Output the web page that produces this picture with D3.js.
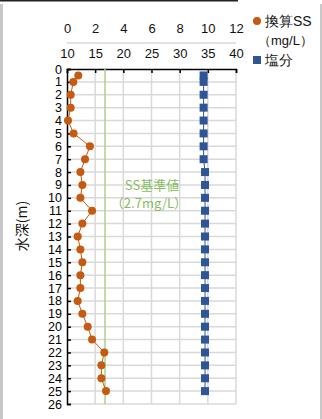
<!DOCTYPE html>
<html>
<head>
<meta charset="utf-8">
<script src="https://cdn.jsdelivr.net/npm/d3@7"></script>
<style>
  body { margin: 0; background: #fff; }
  text { font-family: "Liberation Sans", Arial, sans-serif; }
</style>
</head>
<body>
<div id="wrapper"></div>
<script>
const depths = [0.5, 1, 2, 3, 4, 5, 6, 7, 8, 9, 10, 11, 12, 13, 14, 15, 16, 17, 18, 19, 20, 21, 22, 23, 24, 25];
const ssValues = [0.8, 0.45, 0.26, 0.26, 0.07, 0.47, 1.63, 1.28, 0.95, 1.09, 0.95, 1.78, 1.09,
  0.76, 0.95, 1.09, 0.95, 0.95, 0.76, 1.09, 1.47, 1.78, 2.65, 2.44, 2.44, 2.77];
const salValues = [34.25, 34.25, 34.25, 34.25, 34.25, 34.25, 34.25, 34.25, 34.5, 34.5, 34.5, 34.5, 34.5,
  34.5, 34.5, 34.5, 34.5, 34.5, 34.5, 34.5, 34.5, 34.5, 34.5, 34.5, 34.5, 34.5];
const ssTicks = [0, 2, 4, 6, 8, 10, 12];
const salTicks = [10, 15, 20, 25, 30, 35, 40];
const depthTicks = d3.range(0, 27);
const ssStandard = 2.7;

const width = 322;
const height = 419;
const plot = { left: 67, right: 236, top: 69, bottom: 404 };

const svg = d3.select("#wrapper")
  .append("svg")
  .attr("width", width)
  .attr("height", height);

// frame bits of the screenshot
svg.append("line").attr("x1", 0).attr("x2", 238).attr("y1", 0.5).attr("y2", 0.5)
  .attr("stroke", "#222").attr("stroke-width", 2);
svg.append("line").attr("x1", 1.5).attr("x2", 1.5).attr("y1", 4).attr("y2", height)
  .attr("stroke", "#c8c8c8").attr("stroke-width", 3);
svg.append("line").attr("x1", 321).attr("x2", 321).attr("y1", 4).attr("y2", height)
  .attr("stroke", "#c8c8c8").attr("stroke-width", 2);

const yScale = d3.scaleLinear().domain([0, 26]).range([plot.top, plot.bottom]);
const xSS = d3.scaleLinear().domain([0, 12]).range([plot.left, plot.right]);
const xSal = d3.scaleLinear().domain([10, 40]).range([plot.left, plot.right]);

// grid
svg.append("g")
  .selectAll("line")
  .data(depthTicks.slice(1))
  .join("line")
  .attr("x1", plot.left).attr("x2", plot.right)
  .attr("y1", (d) => yScale(d)).attr("y2", (d) => yScale(d))
  .attr("stroke", "#d9d9d9").attr("stroke-width", 1.5);

svg.append("g")
  .selectAll("line")
  .data(ssTicks.slice(1))
  .join("line")
  .attr("x1", (d) => xSS(d)).attr("x2", (d) => xSS(d))
  .attr("y1", plot.top).attr("y2", plot.bottom)
  .attr("stroke", "#d9d9d9").attr("stroke-width", 1.5);

// gray line between the two top label rows
svg.append("line")
  .attr("x1", plot.left).attr("x2", plot.right)
  .attr("y1", 43).attr("y2", 43)
  .attr("stroke", "#d9d9d9").attr("stroke-width", 1.5);

// top axis line with inner ticks
svg.append("g")
  .attr("transform", `translate(0,${plot.top})`)
  .call(d3.axisTop(xSS).tickValues(ssTicks).tickSize(-4).tickFormat(""))
  .call((g) => g.selectAll("path, line").attr("stroke", "#000").attr("stroke-width", 1.5));

// SS labels
svg.append("g")
  .attr("transform", "translate(0,33)")
  .call(d3.axisTop(xSS).tickValues(ssTicks).tickSize(0).tickPadding(0))
  .call((g) => g.select(".domain").remove())
  .call((g) => g.selectAll("text").attr("font-size", 13).attr("fill", "#111")
    .style("font-family", "'Liberation Sans', Arial, sans-serif"));

// salinity labels
svg.append("g")
  .attr("transform", "translate(0,58)")
  .call(d3.axisTop(xSal).tickValues(salTicks).tickSize(0).tickPadding(0))
  .call((g) => g.select(".domain").remove())
  .call((g) => g.selectAll("text").attr("font-size", 13).attr("fill", "#111")
    .style("font-family", "'Liberation Sans', Arial, sans-serif"));

// left depth axis
svg.append("g")
  .attr("transform", `translate(${plot.left},0)`)
  .call(d3.axisLeft(yScale).tickValues(depthTicks).tickSize(-4).tickPadding(5))
  .call((g) => g.selectAll("path, line").attr("stroke", "#000").attr("stroke-width", 1.5))
  .call((g) => g.selectAll("text").attr("font-size", 12.5).attr("fill", "#000")
    .style("font-family", "'Liberation Sans', Arial, sans-serif"));

svg.append("text")
  .attr("transform", "translate(27,226) rotate(-90)")
  .attr("text-anchor", "middle")
  .attr("font-size", 14)
  .attr("fill", "#111")
  .style("font-family", "'Noto Sans CJK JP', sans-serif")
  .text("水深(m)");

// SS standard line
svg.append("line")
  .attr("x1", xSS(ssStandard)).attr("x2", xSS(ssStandard))
  .attr("y1", plot.top).attr("y2", plot.bottom)
  .attr("stroke", "#a9d18e").attr("stroke-width", 1.5);

svg.append("text")
  .attr("x", 152).attr("y", 190)
  .attr("text-anchor", "middle")
  .attr("font-size", 13).attr("fill", "#84bd5e")
  .style("font-family", "'Noto Sans CJK JP', sans-serif")
  .text("SS基準値");
svg.append("text")
  .attr("x", 149).attr("y", 208)
  .attr("text-anchor", "middle")
  .attr("font-size", 13).attr("fill", "#84bd5e")
  .style("font-family", "'Noto Sans CJK JP', sans-serif")
  .text("（2.7mg/L）");

const data = depths.map((d, i) => ({ depth: d, ss: ssValues[i], sal: salValues[i] }));

// salinity series
svg.append("path")
  .datum(data)
  .attr("fill", "none")
  .attr("stroke", "#2f5597")
  .attr("stroke-width", 1)
  .attr("d", d3.line().x((d) => xSal(d.sal)).y((d) => yScale(d.depth)));

svg.append("g")
  .selectAll("rect")
  .data(data)
  .join("rect")
  .attr("x", (d) => xSal(d.sal) - 4)
  .attr("y", (d) => yScale(d.depth) - 4)
  .attr("width", 8).attr("height", 8)
  .attr("fill", "#2f5597");

// SS series
svg.append("path")
  .datum(data)
  .attr("fill", "none")
  .attr("stroke", "#c55a11")
  .attr("stroke-width", 1)
  .attr("d", d3.line().x((d) => xSS(d.ss)).y((d) => yScale(d.depth)));

svg.append("g")
  .selectAll("circle")
  .data(data)
  .join("circle")
  .attr("cx", (d) => xSS(d.ss))
  .attr("cy", (d) => yScale(d.depth))
  .attr("r", 4)
  .attr("fill", "#c55a11");

// legend
const legend = svg.append("g").style("font-family", "'Noto Sans CJK JP', sans-serif");
legend.append("circle").attr("cx", 257).attr("cy", 21).attr("r", 4).attr("fill", "#c55a11");
legend.append("text").attr("x", 265).attr("y", 26).attr("font-size", 14).attr("fill", "#111").text("換算SS");
legend.append("text").attr("x", 258).attr("y", 45).attr("font-size", 13).attr("fill", "#111").text("（mg/L）");
legend.append("rect").attr("x", 253).attr("y", 56).attr("width", 8).attr("height", 8).attr("fill", "#2f5597");
legend.append("text").attr("x", 265).attr("y", 65).attr("font-size", 14).attr("fill", "#111").text("塩分");
</script>
</body>
</html>
